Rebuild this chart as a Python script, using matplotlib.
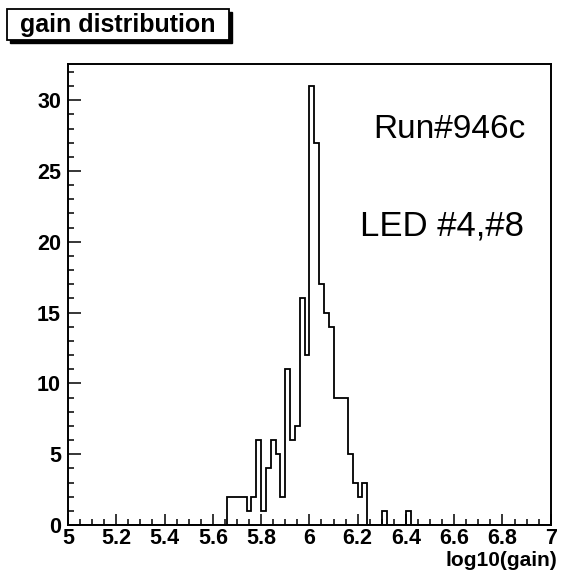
import numpy as np
import matplotlib.pyplot as plt
from matplotlib.patches import Rectangle
from matplotlib.ticker import MultipleLocator

# histogram contents (bin width 0.02 in log10(gain))
bin_lo = [5.66, 5.68, 5.70, 5.72, 5.74, 5.76, 5.78, 5.80, 5.82, 5.84, 5.86, 5.88,
          5.90, 5.92, 5.94, 5.96, 5.98, 6.00, 6.02, 6.04, 6.06, 6.08, 6.10, 6.12,
          6.14, 6.16, 6.18, 6.20, 6.22, 6.30, 6.40]
entries = [2, 2, 2, 2, 1, 2, 6, 1, 4, 6, 5, 2,
           11, 6, 7, 16, 12, 31, 27, 17, 15, 14, 9, 9,
           9, 5, 3, 2, 3, 1, 1]

x_range = (5, 7)
n_bins = 100
x_ticks = [5, 5.2, 5.4, 5.6, 5.8, 6, 6.2, 6.4, 6.6, 6.8, 7]
x_ticklabels = ["5", "5.2", "5.4", "5.6", "5.8", "6", "6.2", "6.4", "6.6", "6.8", "7"]
y_ticks = [0, 5, 10, 15, 20, 25, 30]

title = "gain distribution"
xlabel = "log10(gain)"
note_run = "Run#946c"
note_led = "LED #4,#8"

plt.rcParams['font.family'] = ['Liberation Sans', 'DejaVu Sans']

fig = plt.figure(figsize=(5.62, 5.72), dpi=100)
ax = fig.add_axes([0.121, 0.082, 0.859, 0.806])

edges = np.linspace(x_range[0], x_range[1], n_bins + 1)
centers = np.array(bin_lo) + 0.01
ax.hist(centers, bins=edges, weights=entries, histtype='step', color='black', linewidth=1.3)

ax.set_xlim(*x_range)
ax.set_ylim(0, 1.05 * max(entries))

ax.set_xticks(x_ticks)
ax.set_xticklabels(x_ticklabels)
ax.xaxis.set_minor_locator(MultipleLocator(0.05))
ax.set_yticks(y_ticks)
ax.yaxis.set_minor_locator(MultipleLocator(1))

ax.tick_params(which='both', direction='in', top=False, right=False, width=1.1)
ax.tick_params(axis='x', which='major', length=8, pad=2)
ax.tick_params(axis='x', which='minor', length=4)
ax.tick_params(axis='y', which='major', length=9, pad=5)
ax.tick_params(axis='y', which='minor', length=4.5)
for lab in ax.get_xticklabels() + ax.get_yticklabels():
    lab.set_fontsize(15.5)
    lab.set_fontweight('bold')

for s in ax.spines.values():
    s.set_linewidth(1.4)

W, H = 562, 572
# axis title sits under the right end of the x axis, like ROOT does it
fig.text(557 / W, 1 - 561 / H, xlabel, fontsize=15, fontweight='bold', ha='right', va='center')

# ROOT-style title box with a drop shadow
fig.patches.append(Rectangle((10 / W, 1 - 43 / H), 222 / W, 31 / H, transform=fig.transFigure,
                             facecolor='black', edgecolor='black', zorder=5))
fig.patches.append(Rectangle((7 / W, 1 - 40 / H), 222 / W, 31 / H, transform=fig.transFigure,
                             facecolor='white', edgecolor='black', linewidth=1.3, zorder=6))
fig.text(118 / W, 1 - 25 / H, title, fontsize=18, fontweight='bold', ha='center', va='center', zorder=7)

# handwritten notes on the printout
fig.text(373 / W, 1 - 138 / H, note_run, fontsize=24, va='baseline')
fig.text(360 / W, 1 - 235 / H, note_led, fontsize=25, va='baseline')

fig.savefig('out.png', dpi=100)
